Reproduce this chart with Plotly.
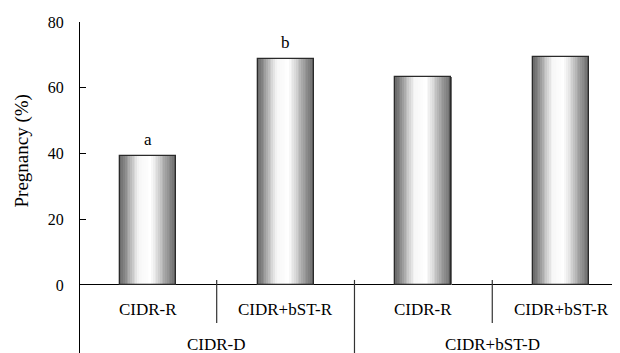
import plotly.graph_objects as go
from plotly.colors import sample_colorscale

# ---- data ----
sub_labels = ["CIDR-R", "CIDR+bST-R", "CIDR-R", "CIDR+bST-R"]
group_labels = ["CIDR-D", "CIDR+bST-D"]
pregnancy = [39.1, 68.6, 63.3, 69.3]
letters = ["a", "b", "", ""]
y_ticks = [0, 20, 40, 60, 80]

# ---- style ----
FONT = "Liberation Serif"
pos = list(range(len(pregnancy)))
bar_w = 0.406
n_strips = 32
grad = [
    [0.0, "#666666"], [0.1, "#8a8a8a"], [0.22, "#c4c4c4"], [0.34, "#f6f6f6"],
    [0.55, "#ffffff"], [0.66, "#e0e0e0"], [0.8, "#a8a8a8"], [0.92, "#828282"],
    [1.0, "#686868"],
]

fig = go.Figure()
sw = bar_w / n_strips
for k in range(n_strips):
    t = (k + 0.5) / n_strips
    col = sample_colorscale(grad, [t])[0]
    off = -bar_w / 2 + (k + 0.5) * sw
    fig.add_trace(go.Bar(
        x=[p + off for p in pos], y=pregnancy, width=sw * 1.2,
        marker=dict(color=col, line=dict(width=0)),
        hoverinfo="skip", showlegend=False,
    ))
# outline
fig.add_trace(go.Bar(
    x=pos, y=pregnancy, width=bar_w,
    marker=dict(color="rgba(0,0,0,0)", line=dict(color="#2a2a2a", width=1.3)),
    showlegend=False,
))

annotations = []
for p, v, l in zip(pos, pregnancy, letters):
    if l:
        annotations.append(dict(x=p, y=v, xref="x", yref="y", text=l, showarrow=False,
                                yanchor="middle", yshift=17,
                                font=dict(family=FONT, size=17, color="black")))
for p, l in zip(pos, sub_labels):
    annotations.append(dict(x=p, y=0, xref="x", yref="y", text=l, showarrow=False,
                            yanchor="middle", yshift=-25,
                            font=dict(family=FONT, size=17, color="black")))
for g, l in enumerate(group_labels):
    annotations.append(dict(x=2 * g + 0.5, y=0, xref="x", yref="y", text=l, showarrow=False,
                            yanchor="middle", yshift=-60,
                            font=dict(family=FONT, size=17, color="black")))
annotations.append(dict(x=0, xref="paper", xanchor="center", xshift=-58,
                        y=40, yref="y", yshift=2, text="Pregnancy (%)", textangle=-90,
                        showarrow=False, font=dict(family=FONT, size=19, color="black")))

shapes = []
for b in [0.5, 2.5]:
    shapes.append(dict(type="line", xref="x", yref="y", ysizemode="pixel", yanchor=0,
                       x0=b, x1=b, y0=5, y1=-38, line=dict(color="#333", width=1.2)))
shapes.append(dict(type="line", xref="x", yref="y", ysizemode="pixel", yanchor=0,
                   x0=1.5, x1=1.5, y0=5, y1=-80, line=dict(color="#333", width=1.2)))

fig.update_layout(
    width=612, height=345,
    margin=dict(l=72, r=0, t=14.3, b=0),
    paper_bgcolor="white", plot_bgcolor="white",
    barmode="overlay", bargap=0,
    showlegend=False,
    annotations=annotations, shapes=shapes,
    font=dict(family=FONT, color="black"),
)
fig.update_xaxes(range=[-0.492, 3.427], showticklabels=False, showgrid=False,
                 zeroline=False, showline=False, ticks="")
fig.update_yaxes(range=[-20.7, 80], tickvals=y_ticks, ticks="inside", ticklen=6,
                 tickcolor="black", showline=True, linecolor="black", linewidth=1,
                 zeroline=True, zerolinecolor="black", zerolinewidth=1, showgrid=False,
                 ticklabelstandoff=12, tickfont=dict(family=FONT, size=16, color="black"))

fig.write_html("out.html")
